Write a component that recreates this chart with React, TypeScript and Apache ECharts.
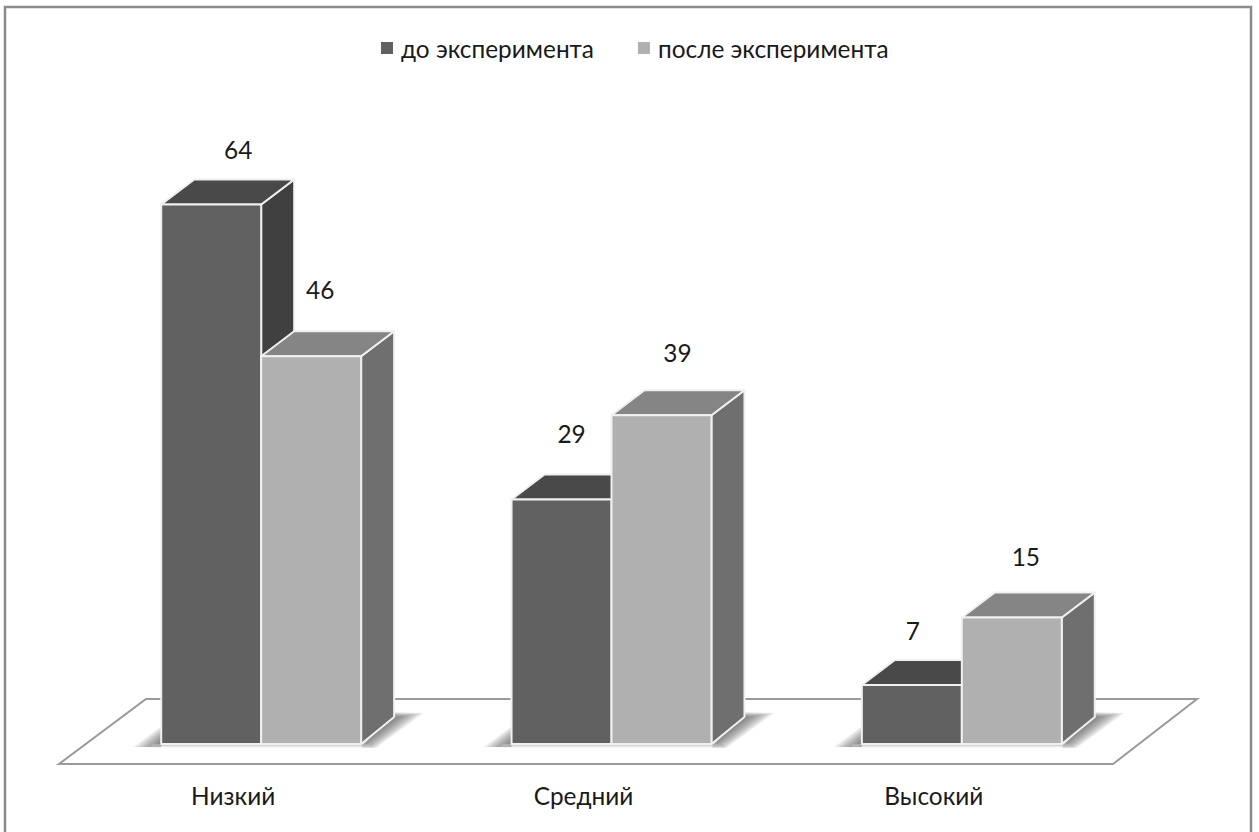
import React, { useEffect, useRef } from "react";
import * as echarts from "echarts";

const categories = ["Низкий", "Средний", "Высокий"];
const seriesNames = ["до эксперимента", "после эксперимента"];
const before = [64, 29, 7];
const after = [46, 39, 15];

const FONT = "Lato, 'Open Sans', sans-serif";
const FONT_SIZE = 24.4;
const TEXT = "#1a1a1a";
const DX = 33;
const DY = -25;
const BAR_RATIO = 100 / 350.5;
const SHADOW_LAYERS = 12;
const PALETTES = [
  { front: "#616161", top: "#494949", side: "#404040" },
  { front: "#b0b0b0", top: "#858585", side: "#6f6f6f" },
];
// hand placement of the value labels relative to each bar's top centre
const LABEL_NUDGE = [
  [[27, -55], [9, -67]],
  [[10, -66], [16, -63]],
  [[1, -55], [14, -61]],
];

function shadowLayers(l: number, r: number, base: number) {
  const out: any[] = [];
  const style = { fill: "rgba(70,70,70,0.075)" };
  for (let k = 0; k < SHADOW_LAYERS; k++) {
    const t = k / (SHADOW_LAYERS - 1);
    out.push(
      {
        type: "polygon",
        shape: {
          points: [
            [l, base + 3],
            [l, base - 3 - 15 * t],
            [l - 5 - 23 * t, base + 3],
          ],
        },
        style,
      },
      {
        type: "polygon",
        shape: {
          points: [
            [r, base + 1 + 3 * t],
            [r + DX, base + DY - 2 - 5 * t],
            [r + DX + 3 + 27 * t, base + DY - 2 - 4 * t],
            [r + 1 + 14 * t, base + 1 + 3 * t],
          ],
        },
        style,
      }
    );
  }
  return out;
}

function makeRender(seriesIndex: number) {
  return (params: any, api: any) => {
    const idx = api.value(0);
    const val = api.value(1);
    const [cx, yBase] = api.coord([idx, 0]);
    const [, yTop] = api.coord([idx, val]);
    const band = api.size([1, 0])[0];
    const w = band * BAR_RATIO;
    const x0 = cx + (seriesIndex === 0 ? -w : 0);
    const x1 = x0 + w;
    const pal = PALETTES[seriesIndex];
    const edge = { stroke: "#f0f0f0", lineWidth: 2, lineJoin: "round" };
    const children: any[] = [];
    if (seriesIndex === 0) {
      const l = cx - w;
      const r = cx + w;
      children.push(...shadowLayers(l, r, yBase), {
        type: "rect",
        shape: { x: l - 10, y: yBase, width: 2 * w + 20, height: 5 },
        style: {
          fill: {
            type: "linear",
            x: 0,
            y: 0,
            x2: 0,
            y2: 1,
            colorStops: [
              { offset: 0, color: "#a8a8a8" },
              { offset: 1, color: "rgba(255,255,255,0)" },
            ],
          },
        },
      });
    }
    children.push(
      {
        type: "polygon",
        shape: {
          points: [
            [x1, yTop],
            [x1 + DX, yTop + DY],
            [x1 + DX, yBase + DY - 2],
            [x1, yBase],
          ],
        },
        style: { fill: pal.side, ...edge },
      },
      {
        type: "polygon",
        shape: {
          points: [
            [x0, yTop],
            [x0 + DX, yTop + DY],
            [x1 + DX, yTop + DY],
            [x1, yTop],
          ],
        },
        style: { fill: pal.top, ...edge },
      },
      {
        type: "rect",
        shape: { x: x0, y: yTop, width: w, height: yBase - yTop },
        style: { fill: pal.front, ...edge },
      },
      {
        type: "text",
        style: {
          text: String(val),
          x: (x0 + x1) / 2 + LABEL_NUDGE[idx][seriesIndex][0],
          y: yTop + LABEL_NUDGE[idx][seriesIndex][1],
          align: "center",
          verticalAlign: "middle",
          fontFamily: FONT,
          fontSize: FONT_SIZE,
          fill: TEXT,
        },
      }
    );
    return { type: "group", children };
  };
}

export default function App() {
  const ref = useRef<HTMLDivElement>(null);
  useEffect(() => {
    document.body.style.margin = "0";
    const chart = echarts.init(ref.current!, undefined, { renderer: "svg" });
    chart.setOption({
      animation: false,
      backgroundColor: "#ffffff",
      legend: {
        data: seriesNames,
        left: 376,
        top: 31,
        itemWidth: 12,
        itemHeight: 12,
        itemGap: 44,
        icon: "rect",
        textStyle: {
          fontFamily: FONT,
          fontSize: FONT_SIZE,
          color: TEXT,
          padding: [0, 0, 0, 3],
        },
      },
      grid: { left: 86, right: 122, top: 154, height: 590 },
      xAxis: {
        type: "category",
        data: categories,
        axisLine: { show: false },
        axisTick: { show: false },
        axisLabel: {
          fontFamily: FONT,
          fontSize: FONT_SIZE,
          color: TEXT,
          margin: 39,
          padding: [0, 56, 0, 0],
        },
      },
      yAxis: { type: "value", min: 0, max: 70, show: false },
      graphic: [
        {
          type: "rect",
          z: -2,
          shape: { x: 5, y: 7, width: 1246, height: 840 },
          style: { fill: "#ffffff", stroke: "#8a8a8a", lineWidth: 2.5 },
        },
        {
          type: "polygon",
          z: -1,
          shape: {
            points: [
              [59, 764],
              [1113, 764],
              [1197, 699],
              [146, 699],
            ],
          },
          style: { fill: "#ffffff", stroke: "#9a9a9a", lineWidth: 2 },
        },
      ],
      series: [before, after].map((vals, s) => ({
        type: "custom",
        name: seriesNames[s],
        itemStyle: { color: PALETTES[s].front },
        encode: { x: 0, y: 1 },
        data: vals.map((v, i) => [i, v]),
        renderItem: makeRender(s),
      })),
    });
    return () => chart.dispose();
  }, []);
  return (
    <div
      ref={ref}
      style={{ position: "fixed", left: 0, top: 0, width: 1259, height: 832 }}
    />
  );
}
